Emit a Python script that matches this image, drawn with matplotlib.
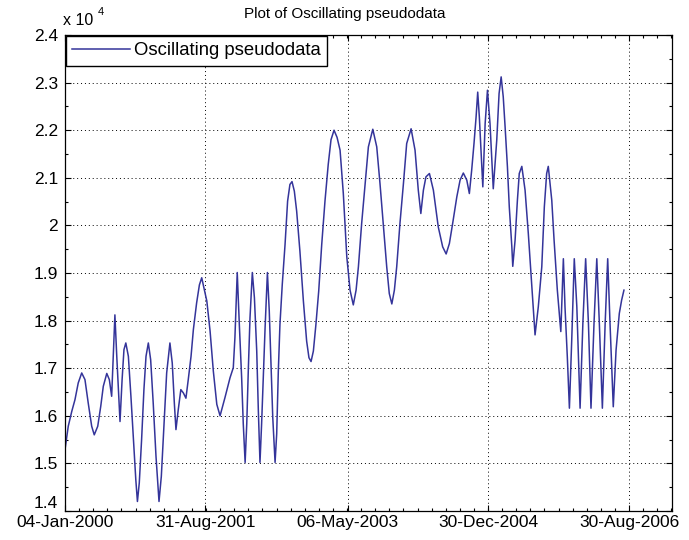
import matplotlib
matplotlib.use('Agg')
import matplotlib.pyplot as plt
from matplotlib.ticker import FixedLocator, FuncFormatter
from datetime import datetime

# ---------------- data ----------------
start_date = '04-Jan-2000'
tick_dates = ['04-Jan-2000', '31-Aug-2001', '06-May-2003', '30-Dec-2004', '30-Aug-2006']
y_ticks = [14000, 15000, 16000, 17000, 18000, 19000, 20000, 21000, 22000, 23000, 24000]

# day offsets from start_date
days = [0, 14, 29, 43, 57, 72, 86, 100, 115, 126, 141, 154, 165, 180, 191, 201, 208, 215,
        223, 230, 237, 246, 254, 262, 273, 284, 294, 305, 312, 320, 330, 340, 349, 359,
        369, 380, 392, 405, 415, 427, 438, 452, 462, 471, 478, 488, 499, 510, 521, 531,
        543, 553, 567, 579, 589, 611, 625, 639, 654, 668, 689, 711, 725, 732, 742, 751,
        761, 768, 776, 783, 790, 797, 807, 816, 826, 833, 840, 847, 854, 862, 872, 880,
        888, 895, 905, 912, 919, 926, 936, 948, 959, 969, 978, 988, 998, 1012, 1027,
        1041, 1051, 1060, 1070, 1081, 1093, 1106, 1120, 1134, 1146, 1159, 1172, 1185,
        1199, 1214, 1228, 1242, 1254, 1264, 1278, 1293, 1307, 1326, 1343, 1357, 1371,
        1386, 1397, 1408, 1419, 1429, 1443, 1458, 1472, 1491, 1508, 1522, 1533, 1544,
        1555, 1570, 1587, 1608, 1627, 1642, 1656, 1670, 1688, 1702, 1716, 1731, 1742,
        1752, 1762, 1771, 1778, 1785, 1800, 1810, 1820, 1831, 1845, 1860, 1870, 1879,
        1888, 1896, 1906, 1914, 1925, 1929, 1939, 1949, 1957, 1968, 1982, 1996, 2011,
        2025, 2039, 2054, 2065, 2075, 2082, 2097, 2107, 2121, 2136, 2147, 2154, 2164,
        2173, 2183, 2194, 2205, 2212, 2219, 2231, 2243, 2255, 2266, 2279, 2291, 2302,
        2315, 2327, 2338, 2348, 2362, 2374, 2388, 2398, 2408]

values = [15290, 15780, 16090, 16340, 16690, 16900, 16760, 16270, 15780, 15600, 15780,
          16200, 16620, 16890, 16760, 16410, 17250, 18120, 17250, 16550, 15880, 16760,
          17390, 17530, 17250, 16410, 15570, 14660, 14200, 14590, 15500, 16550, 17250,
          17530, 17180, 16270, 15150, 14200, 14730, 15850, 16900, 17530, 17110, 16270,
          15710, 16130, 16550, 16480, 16370, 16760, 17250, 17810, 18370, 18750, 18900,
          18410, 17780, 16940, 16240, 16000, 16380, 16800, 17010, 17640, 19010, 17920,
          16800, 15830, 15020, 15830, 17010, 18060, 19010, 18480, 17360, 16100, 15020,
          15830, 16800, 17850, 19010, 18200, 17010, 15970, 15020, 15620, 16940, 17920,
          18760, 19600, 20510, 20860, 20920, 20720, 20300, 19460, 18410, 17570, 17220,
          17140, 17360, 17920, 18620, 19600, 20510, 21280, 21800, 22000, 21850, 21580,
          20670, 19340, 18640, 18330, 18640, 19130, 20040, 20880, 21650, 22020, 21650,
          20880, 20040, 19130, 18570, 18350, 18640, 19130, 20040, 20880, 21720, 22030,
          21580, 20740, 20250, 20740, 21020, 21090, 20740, 19970, 19550, 19400, 19620,
          20040, 20600, 20950, 21100, 20950, 20670, 21160, 21720, 22280, 22800, 22280,
          20810, 22140, 22840, 22140, 20770, 21790, 22770, 23120, 22700, 22070, 21230,
          20390, 19550, 19140, 19690, 20530, 21090, 21240, 20740, 19830, 18710, 17700,
          18290, 19130, 20390, 21090, 21240, 20530, 19690, 18640, 17770, 19300, 18290,
          17240, 16160, 17590, 19300, 18290, 17240, 16160, 17940, 19300, 17940, 16160,
          17940, 19300, 17940, 16160, 17940, 19300, 17940, 16190, 17380, 18150, 18430,
          18640]

series_label = 'Oscillating pseudodata'
title_text = 'Plot of Oscillating pseudodata'

# ---------------- figure ----------------
plt.rcParams['font.family'] = ['Liberation Sans', 'DejaVu Sans']

W, H = 689, 540
fig = plt.figure(figsize=(W / 100, H / 100), dpi=100)
ax = fig.add_axes([65 / W, 29 / H, 607 / W, 476 / H])

line_color = '#34349a'
ax.plot(days, values, color=line_color, lw=1.1, label=series_label,
        solid_joinstyle='round')

t0 = datetime.strptime(start_date, '%d-%b-%Y')
tick_pos = [(datetime.strptime(d, '%d-%b-%Y') - t0).days for d in tick_dates]
ax.set_xticks(tick_pos)
ax.set_xticklabels(tick_dates)
minor_step = (tick_pos[-1] - tick_pos[0]) / 40.0
ax.xaxis.set_minor_locator(FixedLocator([k * minor_step for k in range(44)]))
ax.set_xlim(0, 2615)

ax.set_ylim(y_ticks[0], y_ticks[-1])
ax.set_yticks(y_ticks)
ax.yaxis.set_minor_locator(FixedLocator([v + 500 for v in y_ticks[:-1]]))
ax.yaxis.set_major_formatter(FuncFormatter(lambda v, p: f'{round(v / 1e4, 2):g}'))

ax.grid(True, which='major', linestyle=(0, (1, 3)), color='black', lw=0.7)
ax.tick_params(which='both', direction='in', top=True, right=True, colors='black')
ax.tick_params(which='major', length=4.5, width=0.8, labelsize=12.5)
ax.tick_params(which='minor', length=2.3, width=0.8)
ax.tick_params(axis='x', pad=3)
ax.tick_params(axis='y', pad=5)
for s in ax.spines.values():
    s.set_linewidth(0.9)
    s.set_color('black')

lbls = ax.get_yticklabels()
lbls[0].set_verticalalignment('bottom')

leg = ax.legend(loc='upper left', bbox_to_anchor=(0, 1), borderaxespad=0.05,
                fancybox=False, edgecolor='black', framealpha=1, fontsize=13.3,
                borderpad=0.35, handlelength=3.1, handletextpad=0.25)
leg.get_frame().set_linewidth(1.0)

fig.text(345 / W, 1 - 18 / H, title_text, ha='center', va='baseline', fontsize=11)
fig.text(63 / W, 1 - 25 / H, 'x 10', ha='left', va='baseline', fontsize=11.5)
fig.text(98 / W, 1 - 15 / H, '4', ha='left', va='baseline', fontsize=8)

fig.savefig('out.png', dpi=100)
